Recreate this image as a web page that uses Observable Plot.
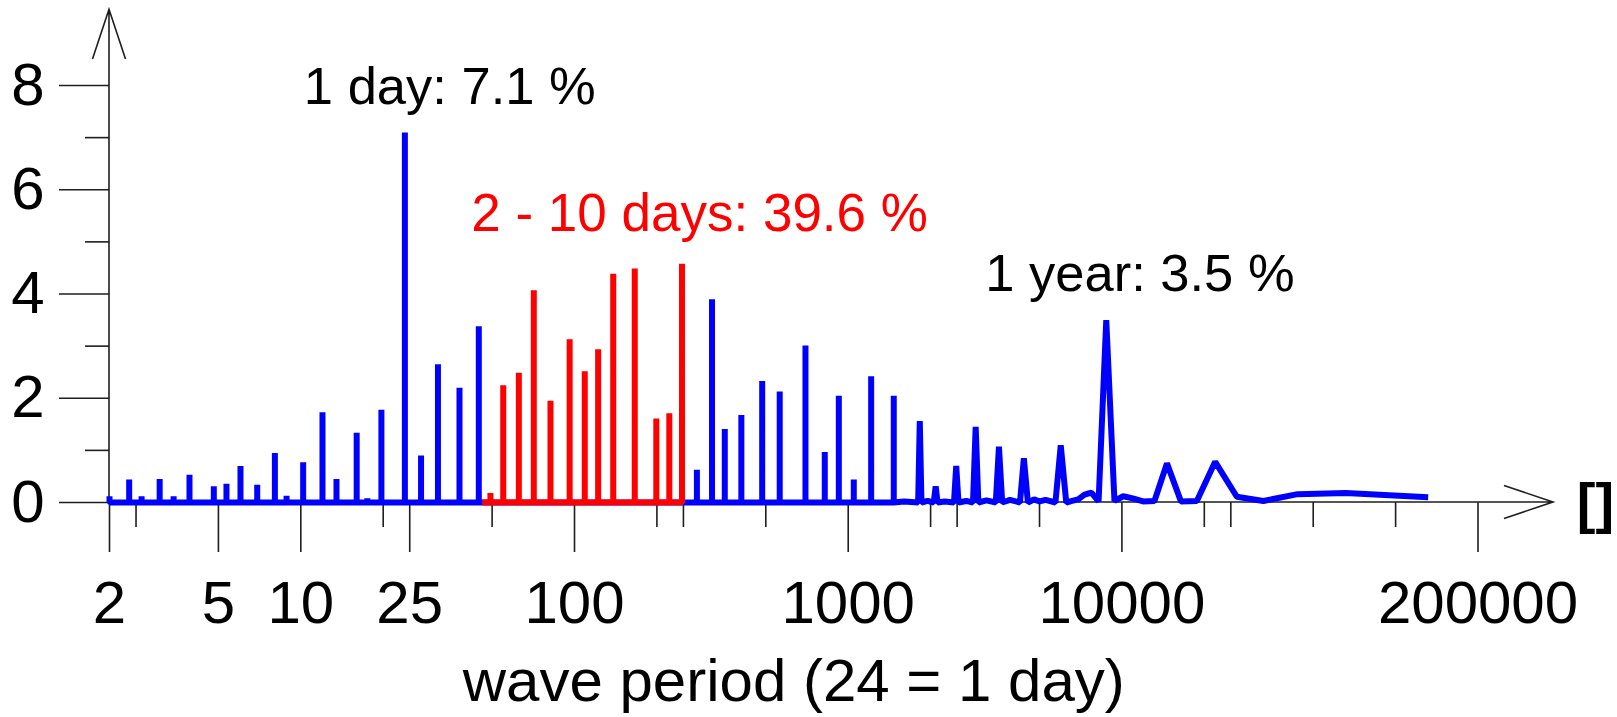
<!DOCTYPE html>
<html>
<head>
<meta charset="utf-8">
<script src="https://cdn.jsdelivr.net/npm/d3@7"></script>
<script src="https://cdn.jsdelivr.net/npm/@observablehq/plot@0.6"></script>
<style>
  html, body { margin: 0; padding: 0; background: #fff; overflow: hidden; }
  #chart svg { display: block; }
</style>
</head>
<body>
<div id="chart"></div>
<script>
// ---- data ----
// narrow spikes (period in hours, share in %)
const spikePeriod = [2.0, 2.36, 2.62, 3.05, 3.43, 3.92, 4.81, 5.35, 6.02, 6.93, 8.04, 8.87, 10.2, 12.0, 13.5, 16.0, 17.5, 19.7, 21.6, 24.0, 27.5, 31.7, 38.0, 44.7,
  49.3, 54.9, 62.6, 71.0, 81.7, 96.0, 109, 122, 138.5, 166, 199, 222, 247,
  280, 318, 354, 407, 485, 562, 698, 821, 924, 1048, 1213, 1467];
const spikeValue = [0.12, 0.44, 0.12, 0.45, 0.12, 0.53, 0.31, 0.36, 0.70, 0.34, 0.95, 0.13, 0.77, 1.73, 0.45, 1.34, 0.08, 1.78, 0.05, 7.1, 0.90, 2.65, 2.20, 3.38,
  0.18, 2.25, 2.49, 4.07, 1.95, 3.13, 2.52, 2.94, 4.39, 4.49, 1.61, 1.71, 4.58,
  0.63, 3.90, 1.41, 1.68, 2.33, 2.13, 3.01, 0.97, 2.05, 0.44, 2.42, 2.05];
// sparse long-period part of the curve (vertices)
const tailPeriod = [1600, 1801, 1826, 1852, 1950, 2054, 2087, 2121, 2250, 2435, 2481, 2529, 2700, 2857, 2922, 2989, 3200, 3462, 3554, 3652,
  3900, 4242, 4383, 4534, 4780, 5000, 5260, 5717, 5977, 6261, 6574, 6920, 7305, 7735, 8218, 8766, 9392, 10115, 10958, 11954,
  13149, 14610, 16436, 18784, 21915, 26298, 32873, 43830, 65745, 131490];
const tailValue = [0.02, 0, 1.56, 0, 0.03, 0, 0.31, 0, 0.02, 0, 0.70, 0, 0.03, 0, 1.45, 0, 0.04, 0, 1.07, 0,
  0.05, 0, 0.85, 0, 0.06, 0.02, 0.05, 0, 1.10, 0, 0.03, 0.06, 0.15, 0.19, 0.02, 3.50, 0.03, 0.12, 0.08, 0.02,
  0.03, 0.75, 0.02, 0.03, 0.78, 0.11, 0.03, 0.16, 0.18, 0.10];
// the highlighted 2 - 10 days band (hours)
const redBand = [46, 248];

const yMajorTicks = [0, 2, 4, 6, 8];
const yMinorTicks = [1, 3, 5, 7];
const xMajorTicks = [2, 5, 10, 25, 100, 1000, 10000, 200000];
const xMinorTicks = [2.5, 20, 50, 200, 250, 500, 2000, 2500, 5000, 20000, 25000, 50000, 100000];

const annLabel = ["1 day: 7.1 %", "2 - 10 days: 39.6 %", "1 year: 3.5 %"];
const annPeriod = [24, 48, 8766];
const annValue = [7.1, 4.58, 3.5];
const xLabel = "wave period (24 = 1 day)";
const unitLabel = "[]";

// ---- build line tables ----
const inRed = p => p >= redBand[0] && p <= redBand[1];
const blueRows = [];
spikePeriod.forEach((p, i) => {
  if (!inRed(p)) blueRows.push({p, v: 0}, {p, v: spikeValue[i]}, {p, v: 0});
});
tailPeriod.forEach((p, i) => blueRows.push({p, v: tailValue[i]}));
const redRows = [{p: redBand[0], v: 0}];
spikePeriod.forEach((p, i) => {
  if (inRed(p)) redRows.push({p, v: 0}, {p, v: spikeValue[i]}, {p, v: 0});
});
const ann = annLabel.map((t, i) => ({t, p: annPeriod[i], v: annValue[i]}));

const FONT = "'Liberation Sans', Arial, Helvetica, sans-serif";
const axisColor = "#1e1e1e";
const lineStyle = {x: "p", y: "v", strokeWidth: 6, strokeLinejoin: "miter", strokeLinecap: "butt"};

const chart = Plot.plot({
  width: 1617,
  height: 717,
  marginLeft: 109,
  marginRight: 139.5,
  marginTop: 85,
  marginBottom: 215,
  style: {fontFamily: FONT, background: "#fff", overflow: "visible"},
  x: {type: "log", domain: [2, 200000]},
  y: {domain: [0, 8]},
  marks: [
    Plot.axisY(yMajorTicks, {tickSize: 50, tickPadding: 15, fontSize: 60, stroke: axisColor, strokeWidth: 1.6, fill: "#000", label: null, tickFormat: d => String(d)}),
    Plot.axisY(yMinorTicks, {tickSize: 24, stroke: axisColor, strokeWidth: 1.6, label: null, tickFormat: () => ""}),
    Plot.axisX(xMajorTicks, {tickSize: 50, stroke: axisColor, strokeWidth: 1.6, label: null, tickFormat: () => ""}),
    Plot.axisX(xMinorTicks, {tickSize: 25, stroke: axisColor, strokeWidth: 1.6, label: null, tickFormat: () => ""}),
    Plot.text(xMajorTicks, {x: d => d, text: d => String(d), frameAnchor: "bottom", textAnchor: "middle", lineAnchor: "top", dy: 78, fontSize: 60, fill: "#000"}),
    Plot.line(blueRows, {...lineStyle, stroke: "#0000ff"}),
    Plot.line(redRows, {...lineStyle, stroke: "#ff0000"}),
    Plot.text([ann[0]], {x: "p", y: "v", text: "t", textAnchor: "start", lineAnchor: "bottom", dx: -101, dy: -28.5, fontSize: 52.5, fill: "#000"}),
    Plot.text([ann[1]], {x: "p", y: "v", text: "t", textAnchor: "start", lineAnchor: "bottom", dx: -16, dy: -33, fontSize: 53, fill: "#ff0000"}),
    Plot.text([ann[2]], {x: "p", y: "v", text: "t", textAnchor: "start", lineAnchor: "bottom", dx: -121, dy: -28.6, fontSize: 52.5, fill: "#000"}),
    Plot.text([xLabel], {frameAnchor: "bottom", lineAnchor: "bottom", dy: 198, fontSize: 60, fill: "#000"}),
    Plot.text([unitLabel], {frameAnchor: "bottom-right", textAnchor: "middle", lineAnchor: "bottom", dx: 117.5, dy: 19, fontSize: 56, fontWeight: "bold", fill: "#000"})
  ]
});

// axis lines with open arrowheads, drawn beneath the data
const xs = chart.scale("x"), ys = chart.scale("y");
const [xl, xr] = xs.range;
const [yb, yt] = ys.range;
const g = d3.select(chart).insert("g", "g")
  .attr("fill", "none").attr("stroke", axisColor).attr("stroke-width", 1.6);
g.append("path").attr("d",
  `M${xl},${yb}L${xr + 75.5},${yb}M${xr + 26.5},${yb - 16.5}L${xr + 75.5},${yb}L${xr + 26.5},${yb + 16.5}`);
g.append("path").attr("d",
  `M${xl},${yb}L${xl},${yt - 75.7}M${xl - 16.5},${yt - 26}L${xl},${yt - 75.7}L${xl + 16.5},${yt - 26}`);

document.getElementById("chart").appendChild(chart);
</script>
</body>
</html>
